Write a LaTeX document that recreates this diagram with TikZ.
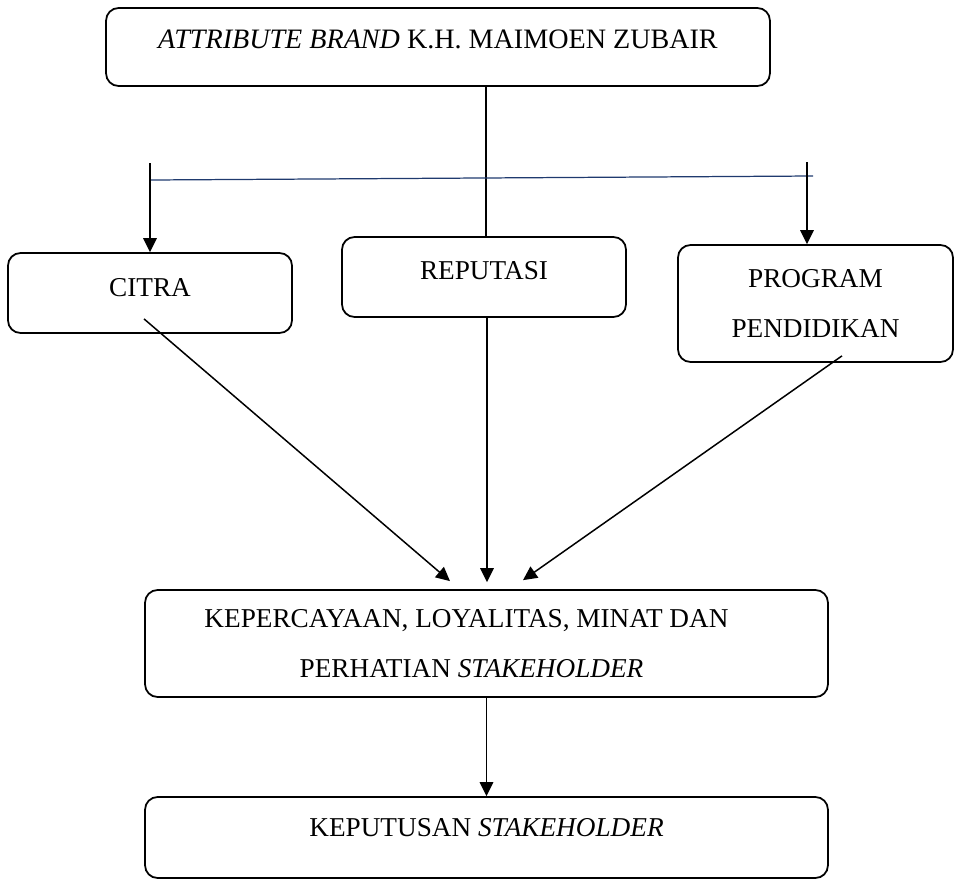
\documentclass[tikz,border=0pt]{standalone}
\usepackage{fontspec}
\setmainfont{Liberation Serif}
\usepackage{tikz}
\usetikzlibrary{positioning,arrows.meta}
\definecolor{BusBlue}{HTML}{1F3A6E}

\begin{document}
\begin{tikzpicture}[x=0.02cm,y=-0.02cm,>={Triangle[length=0.28cm,width=0.27cm]}]
  \tikzstyle{box}=[draw,line width=1pt,rounded corners=0.25cm,align=center,
    inner sep=0pt,font=\fontsize{15.5}{28.5}\selectfont]
  \tikzstyle{link}=[line width=0.85pt]
  \useasboundingbox (0,0) rectangle (958,880);
  % boxes
  \node[box,minimum width=13.28cm,minimum height=1.56cm,text height=0.37cm,text depth=0.3cm,
    font=\fontsize{16}{28.5}\selectfont]
    (attr) at (438,47) {\textit{ATTRIBUTE BRAND} K.H. MAIMOEN ZUBAIR};
  \node[box,minimum width=5.68cm,minimum height=1.6cm,text height=0.37cm,text depth=0.24cm]
    (citra) at (150,293) {CITRA};
  \node[box,minimum width=5.68cm,minimum height=1.6cm,text height=0.37cm,text depth=0.28cm]
    (reputasi) at (484,277) {REPUTASI};
  \node[box,minimum width=5.5cm,minimum height=2.34cm]
    (program) at (815.5,303.5) {PROGRAM\\PENDIDIKAN};
  \node[box,minimum width=13.66cm,minimum height=2.14cm]
    (trust) at (486.5,643.5) {\hspace*{-0.8cm}KEPERCAYAAN, LOYALITAS, MINAT DAN\\
      \hspace*{-0.6cm}PERHATIAN \textit{STAKEHOLDER}};
  \node[box,minimum width=13.66cm,minimum height=1.62cm,text height=0.37cm,text depth=0.4cm]
    (decision) at (486.5,837.5) {KEPUTUSAN \textit{STAKEHOLDER}};
  % branch lines
  \coordinate (busL) at (150,180);
  \coordinate (busR) at (813,176);
  \coordinate (tickL) at (150,163);
  \coordinate (tickR) at (807,162);
  \draw[link] ([xshift=0.04cm]reputasi.north |- attr.south) -- ([xshift=0.04cm]reputasi.north);
  \draw[line width=0.7pt,color=BusBlue] (busL) -- (busR);
  \draw[link,->] (tickL) -- (citra.north);
  \draw[link,->] (tickR) -- (tickR |- program.north);
  % arrows into the result box
  \draw[link,->] ([xshift=-0.12cm,yshift=0.3cm]citra.south)
    -- ([xshift=-0.73cm,yshift=0.16cm]trust.north);
  \draw[link,->] ([xshift=0.06cm]reputasi.south)
    -- ([xshift=0.06cm,yshift=0.14cm]reputasi.south |- trust.north);
  \draw[link,->] ([xshift=0.53cm,yshift=0.14cm]program.south)
    -- ([xshift=0.73cm,yshift=0.18cm]trust.north);
  \draw[link,->] (trust.south) -- (decision.north);
\end{tikzpicture}
\end{document}
